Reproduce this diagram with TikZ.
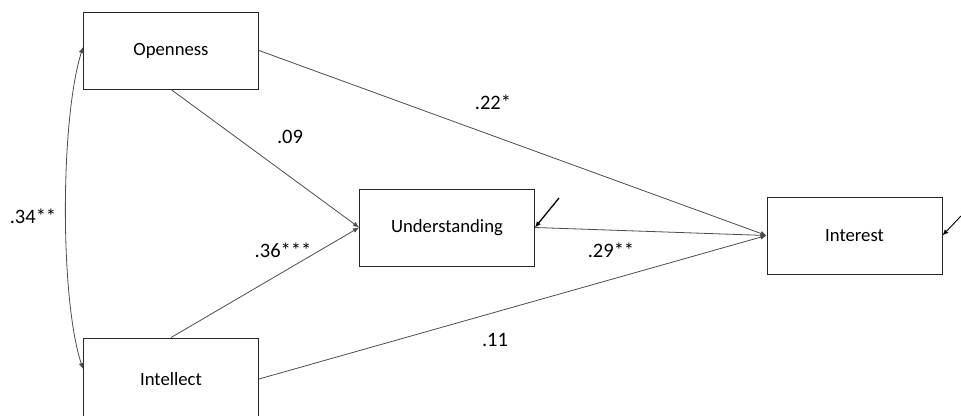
\documentclass[tikz,border=0pt]{standalone}
\usepackage{fontspec}
\setmainfont{Carlito}
\usetikzlibrary{arrows.meta}
\begin{document}
\begin{tikzpicture}[x=1pt,y=-1pt,
  box/.style={draw=black!85,line width=0.9pt,fill=white,minimum width=175pt,minimum height=77pt,inner sep=0pt,font=\fontsize{18.7}{22}\selectfont},
  conn/.style={draw=black!70,line width=0.8pt,-{Latex[length=6pt,width=5pt]}},
  err/.style={draw=black,line width=1.3pt,-{Latex[length=6pt,width=5pt]}},
  lab/.style={font=\fontsize{20.5}{24}\selectfont,inner sep=0pt}]
\useasboundingbox (0,0) rectangle (961,415);
\node[box] (open) at (171,50.5) {Openness};
\node[box] (und) at (447,227.5) {Understanding};
\node[box] (int) at (854.5,235.5) {Interest};
\node[box,minimum height=82pt] (intel) at (171,379) {Intellect};
\coordinate (eu) at (559,198);
\coordinate (ei) at (961,216);
\draw[conn] (open.east) -- (int.west);
\draw[conn] (open.south) -- (und.west);
\draw[conn] (intel.north) -- (und.west);
\draw[conn] (und.east) -- (int.west);
\draw[conn] (intel.east) -- (int.west);
\draw[draw=black!70,line width=0.8pt,{Latex[length=6pt,width=5pt]}-{Latex[length=6pt,width=5pt]}]
  ([yshift=3.5pt]open.west) .. controls +(-23,73) and +(-23,-69) .. ([yshift=10pt]intel.west);
\draw[err] (eu) -- (und.east);
\draw[err,line width=0.9pt] (ei) -- (int.east);
\node[lab] (l22) at (493,102) {.22*};
\node[lab] (l09) at (290,137) {.09};
\node[lab] (l34) at (33,216) {.34**};
\node[lab] (l36) at (283,250) {.36***};
\node[lab] (l29) at (611,250) {.29**};
\node[lab] (l11) at (495,340) {.11};
\end{tikzpicture}
\end{document}
